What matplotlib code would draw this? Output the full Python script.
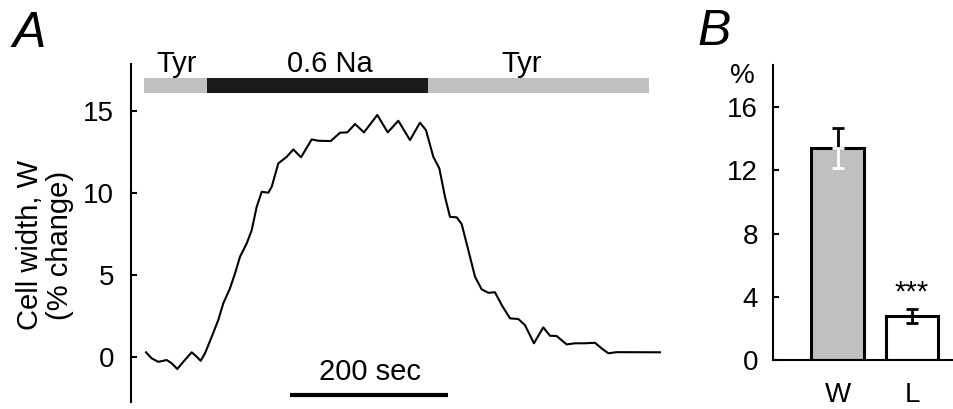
import matplotlib
matplotlib.use("Agg")
import matplotlib.pyplot as plt

plt.rcParams['font.family'] = ['Liberation Sans', 'DejaVu Sans']

# trace A: time (s) and cell width change (%)
trace_t = [0, 7.2, 15.6, 26.2, 32.5, 39.6, 47.2, 57.8, 64.2, 69.2, 74.7, 83.2,
           91.5, 97.8, 106.3, 112.7, 119, 127.5, 133.8, 140.1, 146.5, 154.8,
           159.1, 167.5, 178.1, 186.5, 196.2, 209.7, 218.1, 233.8, 245.6, 254.8,
           264.6, 275.9, 292.8, 306, 319.4, 334.2, 346.8, 354.4, 363.7, 371.3,
           378.5, 384.8, 393.3, 399.6, 408, 416.5, 424.9, 433.3, 441.8, 450.3,
           460.8, 471.3, 479.7, 491.1, 502.9, 511.4, 519.9, 532.5, 543, 555.7,
           568.4, 576.8, 585.2, 595.8, 650.6]
trace_w = [0.29, -0.08, -0.29, -0.18, -0.38, -0.73, -0.29, 0.29, 0.02, -0.23,
           0.23, 1.24, 2.26, 3.27, 4.19, 5.10, 6.12, 6.93, 7.74, 9.16, 10.08,
           10.02, 10.38, 11.81, 12.21, 12.66, 12.18, 13.27, 13.19, 13.17, 13.68,
           13.70, 14.21, 13.70, 14.76, 13.70, 14.41, 13.23, 14.29, 13.84, 12.21,
           11.51, 9.77, 8.55, 8.52, 8.11, 6.52, 4.90, 4.13, 3.92, 3.95, 3.17,
           2.36, 2.32, 1.95, 0.84, 1.81, 1.30, 1.28, 0.77, 0.84, 0.84, 0.87,
           0.53, 0.23, 0.30, 0.29]

# solution protocol bars (start, end in s)
seg_names = ['Tyr', '0.6 Na', 'Tyr']
seg_start = [-2.5, 76.8, 356.6]
seg_end = [76.8, 356.6, 636.7]
seg_label_t = [39, 233, 475.5]
seg_colors = ['#c0c0c0', '#1a1a1a', '#c0c0c0']

# panel B
groups = ['W', 'L']
means = [13.41, 2.78]
sems = [1.27, 0.46]

fig = plt.figure(figsize=(9.54, 4.09), dpi=100)

# ---- panel A
axA = fig.add_axes([131/954, 7/409, (665-131)/954, (402-64)/409])
axA.plot(trace_t, trace_w, color='black', lw=1.5, solid_joinstyle='round')
for i in range(len(seg_names)):
    axA.barh(16.555, seg_end[i]-seg_start[i], left=seg_start[i], height=0.91,
             color=seg_colors[i], clip_on=False)
    axA.text(seg_label_t[i], 17.38, seg_names[i], ha='center', va='baseline',
             fontsize=21)
axA.set_xlim(-19, 657)
axA.set_ylim(-2.74, 17.87)
axA.set_yticks([0, 5, 10, 15])
axA.tick_params(axis='y', direction='in', length=4.5, width=1.5, pad=12, labelsize=20)
axA.set_xticks([])
for s in ['top', 'right', 'bottom']:
    axA.spines[s].set_visible(False)
axA.spines['left'].set_linewidth(1.5)
axA.set_ylabel('Cell width, W\n(% change)', fontsize=21, linespacing=1.1)
axA.yaxis.set_label_coords((74-131)/534, 0.464)
# scale bar
axA.plot([182.3, 382.3], [-2.32, -2.32], color='black', lw=3, clip_on=False,
         solid_capstyle='butt')
axA.text(283, -1.40, '200 sec', ha='center', va='baseline', fontsize=21)
fig.text(12/954, 1-47/409, 'A', fontsize=36, style='italic', ha='left', va='baseline')

# ---- panel B
axB = fig.add_axes([773.3/954, 49/409, (954-773.3)/954, (360-65)/409])
xs = [0, 1]
axB.bar(xs, means, width=0.711, color=['#c0c0c0', 'white'], edgecolor='black', lw=2.2)
axB.errorbar([0], [means[0]], yerr=[[0], [sems[0]]], fmt='none', ecolor='black',
             elinewidth=2, capsize=4, capthick=2)
axB.errorbar([0], [means[0]], yerr=[[sems[0]], [0]], fmt='none', ecolor='white',
             elinewidth=2, capsize=4, capthick=2)
axB.errorbar([1], [means[1]], yerr=[sems[1]], fmt='none', ecolor='black',
             elinewidth=2, capsize=4, capthick=2)
axB.text(1, 4.24, '***', ha='center', va='center', fontsize=21)
axB.set_xlim(-0.862, 1.564)
axB.set_ylim(0, 18.66)
axB.set_yticks([0, 4, 8, 12, 16])
axB.set_xticks(xs)
axB.set_xticklabels(groups)
axB.tick_params(axis='y', direction='in', length=4.5, width=1.5, pad=11, labelsize=20)
axB.tick_params(axis='x', length=0, pad=16, labelsize=20)
for s in ['top', 'right']:
    axB.spines[s].set_visible(False)
axB.spines['left'].set_linewidth(1.5)
axB.spines['bottom'].set_linewidth(1.5)
fig.text(755/954, 1-76/409, '%', ha='right', va='center', fontsize=20)
fig.text(697/954, 1-45/409, 'B', fontsize=36, style='italic', ha='left', va='baseline')

fig.savefig('out.png', dpi=100)
